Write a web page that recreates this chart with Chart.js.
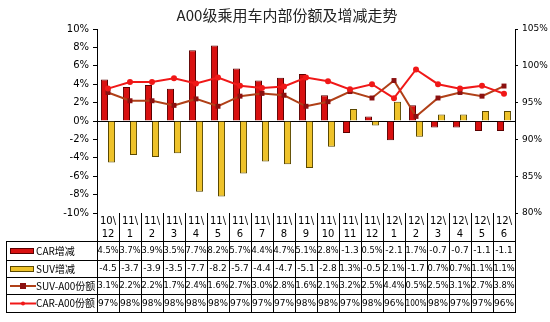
<!DOCTYPE html>
<html>
<head>
<meta charset="utf-8">
<script src="https://cdn.jsdelivr.net/npm/chart.js@4"></script>
<style>
  html, body { margin: 0; padding: 0; background: #fff; }
  #wrap { width: 550px; height: 322px; }
</style>
</head>
<body>
<div id="wrap"><canvas id="shareChart" width="550" height="322"></canvas></div>
<script>
// Chart data
const months = ["10\\12", "11\\1", "11\\2", "11\\3", "11\\4", "11\\5", "11\\6", "11\\7", "11\\8", "11\\9",
    "11\\10", "11\\11", "11\\12", "12\\1", "12\\2", "12\\3", "12\\4", "12\\5", "12\\6"];
const carChange = [4.5, 3.7, 3.9, 3.5, 7.7, 8.2, 5.7, 4.4, 4.7, 5.1, 2.8, -1.3, 0.5, -2.1, 1.7, -0.7, -0.7, -1.1, -1.1];
const suvChange = [-4.5, -3.7, -3.9, -3.5, -7.7, -8.2, -5.7, -4.4, -4.7, -5.1, -2.8, 1.3, -0.5, 2.1, -1.7, 0.7, 0.7, 1.1, 1.1];
const suvShare = [3.1, 2.2, 2.2, 1.7, 2.4, 1.6, 2.7, 3.0, 2.8, 1.6, 2.1, 3.2, 2.5, 4.4, 0.5, 2.5, 3.1, 2.7, 3.8];
const carShare = [96.9, 97.8, 97.8, 98.3, 97.6, 98.4, 97.3, 97.0, 97.2, 98.4, 97.9, 96.8, 97.5, 95.6, 99.5, 97.5, 96.9, 97.3, 96.2];
const leftTicks = [-10, -8, -6, -4, -2, 0, 2, 4, 6, 8, 10];
const rightTicks = [80, 85, 90, 95, 100, 105];

const TITLE = "A00级乘用车内部份额及增减走势";
const FONT = "'DejaVu Sans', 'Noto Sans CJK SC', sans-serif";
const CJK = "'Noto Sans CJK SC', sans-serif";

// Table rows under the plot
const tableRows = [
    { label: "CAR增减", kind: "bar", fill: "#d81010", edge: "#5a0000", values: carChange, fmt: v => v < 0 ? v.toFixed(1) : v.toFixed(1) + "%" },
    { label: "SUV增减", kind: "bar", fill: "#eec22a", edge: "#5a4800", values: suvChange, fmt: v => v < 0 ? v.toFixed(1) : v.toFixed(1) + "%" },
    { label: "SUV-A00份额", kind: "square", fill: "#8b1010", edge: "#b04018", values: suvShare, fmt: v => v.toFixed(1) + "%" },
    { label: "CAR-A00份额", kind: "dot", fill: "#f01818", edge: "#f01818", values: carShare, fmt: v => Math.round(v) + "%" }
];
const rowEdges = [213, 241, 260, 277, 294, 312];

const tablePlugin = {
    id: "dataTable",
    afterDraw(chart) {
        const ctx = chart.ctx;
        const xs = chart.scales.x;
        const area = chart.chartArea;
        const colW = (area.right - area.left) / months.length;
        ctx.save();

        // title
        ctx.fillStyle = "#222";
        ctx.font = "15px " + CJK;
        ctx.textAlign = "center";
        ctx.textBaseline = "middle";
        ctx.fillText(TITLE, 287, 15);

        ctx.strokeStyle = "#000";
        ctx.lineWidth = 1;

        // grid lines
        ctx.beginPath();
        for (let i = 0; i <= months.length; i++) {
            const x = Math.round(area.left + colW * i) + 0.5;
            ctx.moveTo(x, rowEdges[0]);
            ctx.lineTo(x, rowEdges[rowEdges.length - 1]);
        }
        ctx.moveTo(6.5, rowEdges[1]);
        ctx.lineTo(6.5, rowEdges[rowEdges.length - 1]);
        for (let r = 1; r < rowEdges.length; r++) {
            ctx.moveTo(6, rowEdges[r] + 0.5);
            ctx.lineTo(area.right + 1, rowEdges[r] + 0.5);
        }
        ctx.stroke();

        // header labels
        ctx.fillStyle = "#000";
        ctx.font = "10px " + FONT;
        months.forEach((m, i) => {
            const x = xs.getPixelForValue(i);
            const parts = m.split("\\");
            ctx.fillText(parts[0] + "\\", x, 221);
            ctx.fillText(parts[1], x, 234);
        });

        // rows
        tableRows.forEach((row, r) => {
            const yc = (rowEdges[r + 1] + rowEdges[r + 2]) / 2 + 0.5;

            // legend key
            if (row.kind === "bar") {
                ctx.fillStyle = row.fill;
                ctx.strokeStyle = row.edge;
                ctx.fillRect(10, yc - 3, 24, 6);
                ctx.strokeRect(10.5, yc - 2.5, 23, 5);
            } else {
                ctx.strokeStyle = row.edge;
                ctx.lineWidth = 2;
                ctx.beginPath();
                ctx.moveTo(10, yc);
                ctx.lineTo(36, yc);
                ctx.stroke();
                ctx.lineWidth = 1;
                ctx.fillStyle = row.fill;
                if (row.kind === "square") {
                    ctx.fillRect(20, yc - 3, 6, 6);
                } else {
                    ctx.beginPath();
                    ctx.arc(23, yc, 2, 0, Math.PI * 2);
                    ctx.fill();
                }
            }
            ctx.fillStyle = "#000";
            ctx.textAlign = "left";
            ctx.font = "10px " + CJK;
            ctx.fillText(row.label, 36, yc);

            // values
            ctx.textAlign = "center";
            ctx.font = "9px " + FONT;
            row.values.forEach((v, i) => {
                ctx.fillText(row.fmt(v), xs.getPixelForValue(i), yc, colW - 1);
            });
        });
        ctx.restore();
    }
};

const ctx = document.getElementById("shareChart").getContext("2d");

new Chart(ctx, {
    data: {
        labels: months,
        datasets: [
            {
                type: "line",
                label: "CAR-A00份额",
                data: carShare,
                yAxisID: "y1",
                borderColor: "#f01818",
                backgroundColor: "#f01818",
                borderWidth: 2,
                pointRadius: 2,
                pointStyle: "circle",
                tension: 0,
                order: 0
            },
            {
                type: "line",
                label: "SUV-A00份额",
                data: suvShare,
                yAxisID: "y",
                borderColor: "#b04018",
                backgroundColor: "#8b1010",
                borderWidth: 2,
                pointRadius: 3.5,
                pointBorderWidth: 0,
                pointStyle: "rect",
                tension: 0,
                order: 1
            },
            {
                type: "bar",
                label: "CAR增减",
                data: carChange,
                yAxisID: "y",
                backgroundColor: "#d81010",
                borderColor: "#5a0000",
                borderWidth: 1,
                categoryPercentage: 0.64,
                barPercentage: 1.0,
                order: 2
            },
            {
                type: "bar",
                label: "SUV增减",
                data: suvChange,
                yAxisID: "y",
                backgroundColor: "#eec22a",
                borderColor: "#5a4800",
                borderWidth: 1,
                categoryPercentage: 0.64,
                barPercentage: 1.0,
                order: 3
            }
        ]
    },
    options: {
        responsive: false,
        animation: false,
        layout: { padding: { top: 29, left: 0, right: 0, bottom: 0 } },
        plugins: {
            legend: { display: false },
            tooltip: { enabled: false }
        },
        scales: {
            x: {
                ticks: { display: false },
                grid: { display: false },
                border: { display: false },
                afterFit(scale) { scale.height = 109; }
            },
            y: {
                position: "left",
                min: -10,
                max: 10,
                afterBuildTicks(scale) { scale.ticks = leftTicks.map(v => ({ value: v })); },
                ticks: {
                    color: "#000",
                    font: { size: 10, family: FONT },
                    padding: 4,
                    callback: v => v + "%"
                },
                grid: {
                    color: c => c.tick && c.tick.value === 0 ? "#000" : "rgba(0,0,0,0)",
                    tickColor: "#000",
                    tickLength: 4
                },
                border: { display: true, color: "#000" },
                afterFit(scale) { scale.width = 97; }
            },
            y1: {
                position: "right",
                min: 80,
                max: 105,
                afterBuildTicks(scale) { scale.ticks = rightTicks.map(v => ({ value: v })); },
                ticks: {
                    color: "#000",
                    font: { size: 9, family: FONT },
                    padding: 4,
                    callback: v => v + "%"
                },
                grid: { drawOnChartArea: false, tickColor: "#000", tickLength: 3 },
                border: { display: true, color: "#000" },
                afterFit(scale) { scale.width = 35; }
            }
        }
    },
    plugins: [tablePlugin]
});
</script>
</body>
</html>
